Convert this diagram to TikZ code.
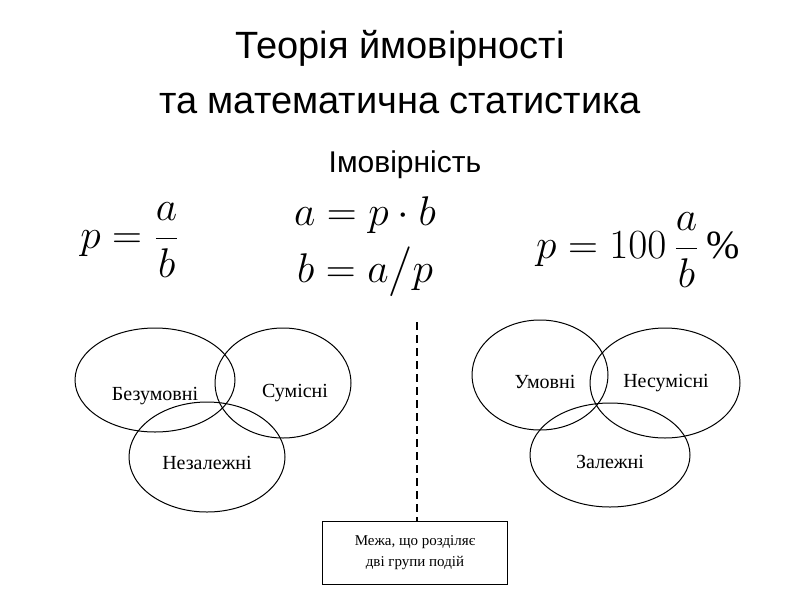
\documentclass[tikz,border=0pt]{standalone}
\usepackage{amsmath}
\usepackage{fontspec}
\setmainfont{Liberation Serif}
\newfontfamily\titlefont{Liberation Sans}
\usetikzlibrary{shapes.geometric}
\begin{document}
\begin{tikzpicture}[x=1pt,y=-1pt,
  venn/.style={draw,line width=1pt,ellipse,inner sep=0pt},
  lbl/.style={font=\fontsize{20}{23}\selectfont},
  frm/.style={font=\fontsize{20}{24}\selectfont}]
\useasboundingbox (0,0) rectangle (800,600);
\node[font=\titlefont\fontsize{38}{42}\selectfont] (t1) at (400,48) {Теорія ймовірності};
\node[font=\titlefont\fontsize{38}{42}\selectfont] (t2) at (400,103) {та математична статистика};
\node[font=\titlefont\fontsize{30}{34}\selectfont] (t3) at (405,165) {Імовірність};
\node[frm] (f1) at (130,240) {\scalebox{2}{$p=\dfrac{a}{b}$}};
\node[frm] (f2) at (365,215) {\scalebox{2}{$a=p\cdot b$}};
\node[frm] (f3) at (365,272) {\scalebox{2}{$b=a\big/p$}};
\node[frm] (f4) at (638,250) {\scalebox{2}{$p=100\,\dfrac{a}{b}\,\%$}};
\node[venn,minimum width=160,minimum height=104] (e1) at (155,380) {};
\node[venn,minimum width=136,minimum height=110] (e2) at (283,383) {};
\node[venn,minimum width=156,minimum height=110] (e3) at (207,457) {};
\node[venn,minimum width=136,minimum height=110] (e4) at (540,375) {};
\node[venn,minimum width=150,minimum height=110] (e5) at (665,383) {};
\node[venn,minimum width=160,minimum height=104] (e6) at (610,455) {};
\node[lbl] (l1) at (155,396) {Безумовні};
\node[lbl] (l2) at (295,393) {Сумісні};
\node[lbl] (l3) at (207,463) {Незалежні};
\node[lbl] (l4) at (545,382) {Умовні};
\node[lbl] (l5) at (666,383) {Несумісні};
\node[lbl] (l6) at (610,462) {Залежні};
\node[draw,line width=0.8pt,minimum width=185,minimum height=63,align=center,font=\fontsize{15}{21}\selectfont] (box) at (415,553) {Межа, що розділяє\\дві групи подій};
\coordinate (top) at (417,322);
\draw[line width=2.5pt,dash pattern=on 8pt off 5pt] (top) -- (top|-box.north);
\end{tikzpicture}
\end{document}
